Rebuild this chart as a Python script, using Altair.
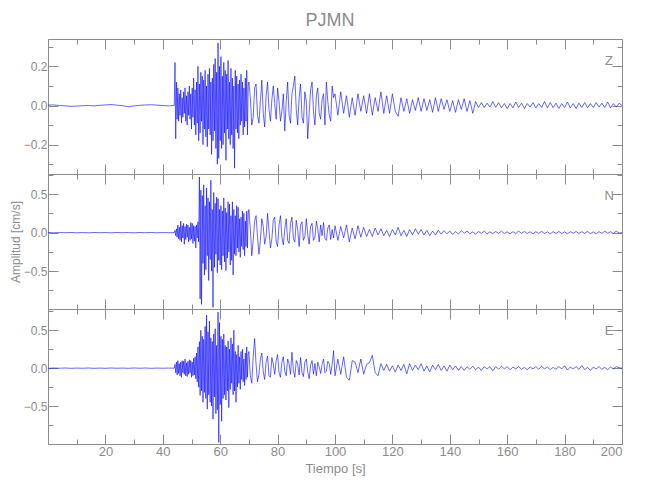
import altair as alt
import pandas as pd

# ---------------- data ----------------
PRE_T = list(range(0, 44, 2))          # pre-event samples, 0..42 s
A_T0, A_DT = 44.0, 0.25                # strong-motion part
B_T0, B_DT = 70.0, 0.5                 # coda
C_T0, C_DT = 100.0, 1.0                # late coda

Z_PRE = [0.002, 0.003, 0.0, -0.002, -0.004, -0.003, -0.001, 0.0, -0.002, 0.001, 0.003,
         0.005, 0.002, -0.001, -0.006, -0.002, 0.001, 0.003, 0.004, 0.002, 0.0, -0.002]
Z_A = [0.00, 0.22, -0.17, 0.12, -0.07, 0.09, -0.08, 0.06, -0.05, 0.08, -0.09, 0.04,
       -0.06, 0.07, -0.04, 0.09, -0.08, 0.05, -0.10, 0.07, -0.05, 0.10, -0.07, 0.06,
       -0.12, 0.09, -0.06, 0.14, -0.10, 0.08, -0.15, 0.12, -0.09, 0.20, -0.18, 0.11,
       -0.14, 0.17, -0.08, 0.15, -0.20, 0.13, -0.12, 0.18, -0.16, 0.10, -0.21, 0.16,
       -0.12, 0.19, -0.15, 0.12, -0.25, 0.14, -0.18, 0.21, -0.13, 0.24, -0.22, 0.17,
       -0.30, 0.32, -0.27, 0.20, -0.18, 0.25, -0.22, 0.15, -0.20, 0.22, -0.14, 0.18,
       -0.28, 0.16, -0.12, 0.23, -0.17, 0.12, -0.20, 0.19, -0.15, 0.14, -0.22, 0.10,
       -0.32, 0.18, -0.12, 0.15, -0.14, 0.11, -0.17, 0.13, -0.10, 0.16, -0.08, 0.12,
       -0.15, 0.09, -0.11, 0.14, -0.08, 0.18, -0.15, 0.10]
Z_B = [0.12, 0.04, -0.10, -0.06, 0.09, 0.11, -0.05, -0.09, 0.02, 0.13, -0.04, -0.11,
       0.05, 0.12, -0.02, -0.08, 0.03, 0.10, 0.01, -0.07, 0.09, 0.02, -0.08, -0.03,
       0.06, -0.13, 0.02, 0.12, -0.05, -0.09, 0.06, 0.10, 0.15, -0.02, -0.10, 0.04,
       0.11, -0.06, -0.09, 0.07, 0.02, -0.17, -0.04, 0.08, 0.12, -0.03, -0.10, 0.05,
       0.09, -0.04, -0.07, 0.03, 0.06, -0.10, 0.12, 0.02, -0.05, -0.08, 0.10, 0.04]
Z_C = [0.06, -0.05, 0.07, -0.04, 0.05, -0.06, 0.04, -0.05, 0.06, -0.03,
       0.05, -0.04, 0.06, -0.05, 0.04, -0.03, 0.07, -0.04, 0.05, -0.04,
       0.06, -0.03, -0.055, 0.04, -0.03, 0.035, -0.04, 0.03, -0.025, 0.04,
       -0.03, 0.035, -0.025, 0.03, -0.035, 0.04, -0.03, 0.035, -0.02, 0.03,
       -0.03, 0.025, -0.035, 0.03, -0.02, 0.035, -0.03, 0.025, -0.04, 0.02,
       -0.01, 0.015, -0.01, 0.012, -0.008, 0.02, -0.01, 0.015, -0.012, 0.01,
       -0.015, 0.01, -0.012, 0.018, -0.01, 0.012, -0.015, 0.01, -0.008, 0.015,
       -0.012, 0.01, -0.01, 0.02, -0.012, 0.015, -0.01, 0.012, -0.015, 0.01,
       -0.01, 0.018, -0.012, 0.01, -0.015, 0.012, -0.01, 0.015, -0.012, 0.01,
       -0.01, 0.015, -0.008, 0.012, -0.01, 0.018, -0.012, 0.01, -0.008, 0.012, 0.0]

N_PRE = [0.002, -0.002, 0.001, -0.001, 0.002, -0.002, 0.001, -0.002, 0.002, -0.001, 0.001,
         -0.002, 0.002, -0.001, 0.001, -0.002, 0.002, -0.001, 0.002, -0.002, 0.001, -0.001]
N_A = [0.00, 0.03, -0.04, 0.05, -0.06, 0.10, -0.08, 0.07, -0.10, 0.15, -0.12, 0.09,
       -0.07, 0.12, -0.15, 0.08, -0.09, 0.11, -0.06, 0.10, -0.12, 0.07, -0.10, 0.13,
       -0.08, 0.12, -0.14, 0.09, -0.11, 0.08, -0.20, 0.10, -0.07, 0.14, -0.12, 0.72,
       -0.86, 0.55, -0.93, 0.48, -0.40, 0.62, -0.55, 0.35, -0.48, 0.58, -0.30, 0.45,
       -0.62, 0.40, -0.35, 0.68, -0.50, 0.30, -0.97, 0.52, -0.45, 0.38, -0.28, 0.46,
       -0.52, 0.44, -0.36, 0.30, -0.42, 0.35, -0.48, 0.28, -0.30, 0.45, -0.38, 0.32,
       -0.49, 0.26, -0.33, 0.40, -0.25, 0.37, -0.42, 0.22, -0.36, 0.40, -0.55, 0.30,
       -0.28, 0.22, -0.30, 0.35, -0.20, 0.33, -0.25, 0.18, -0.32, 0.20, -0.18, 0.28,
       -0.22, 0.25, -0.30, 0.15, -0.18, 0.28, -0.20, 0.24]
N_B = [0.30, 0.05, -0.30, -0.10, 0.15, 0.22, -0.05, -0.28, -0.10, 0.18, 0.08, -0.15,
       -0.05, 0.25, 0.02, -0.20, -0.08, 0.16, 0.20, -0.12, -0.18, 0.10, 0.22, -0.06,
       -0.16, 0.05, 0.18, -0.10, -0.14, 0.12, 0.20, -0.08, -0.12, 0.16, 0.04, -0.18,
       0.10, 0.14, -0.10, -0.05, 0.18, -0.02, -0.15, 0.08, 0.12, -0.10, -0.06, 0.15,
       0.05, -0.12, 0.10, -0.04, 0.13, -0.08, -0.10, 0.06, 0.10, -0.09, 0.04, -0.07]
N_C = [0.09, -0.10, 0.08, -0.07, 0.10, -0.12, 0.06, -0.08, 0.09, -0.06,
       0.07, -0.05, 0.04, -0.05, 0.06, -0.03, 0.05, -0.04, 0.03, -0.05,
       0.04, -0.03, 0.07, -0.04, 0.03, -0.05, 0.04, -0.03, 0.05, -0.02,
       0.04, -0.03, 0.03, -0.04, 0.02, -0.03, 0.03, -0.02, 0.025, -0.015,
       0.02, -0.025, 0.015, -0.02, 0.025, -0.01, 0.02, -0.015, 0.01, -0.02,
       0.015, -0.01, 0.02, -0.015, 0.01, -0.012, 0.015, -0.01, 0.02, -0.012,
       0.01, -0.015, 0.012, -0.01, 0.02, -0.01, 0.015, -0.012, 0.01, -0.015,
       0.012, -0.01, 0.018, -0.012, 0.01, -0.015, 0.012, -0.01, 0.015, -0.012,
       0.01, -0.015, 0.012, -0.008, 0.015, -0.01, 0.012, -0.01, 0.015, -0.012,
       0.01, -0.015, 0.012, -0.01, 0.02, -0.008, 0.012, -0.01, 0.02, -0.005, 0.0]

E_PRE = [-0.002, 0.002, -0.001, 0.002, -0.002, 0.001, -0.001, 0.002, -0.002, 0.001, -0.002,
         0.002, -0.001, 0.001, -0.002, 0.002, -0.001, 0.002, -0.002, 0.001, -0.001, 0.001]
E_A = [0.00, 0.05, -0.06, 0.08, -0.09, 0.10, -0.07, 0.06, -0.10, 0.08, -0.12, 0.10,
       -0.06, 0.09, -0.08, 0.12, -0.10, 0.07, -0.11, 0.09, -0.08, 0.11, -0.06, 0.10,
       -0.12, 0.08, -0.10, 0.13, -0.09, 0.15, -0.14, 0.20, -0.18, 0.28, -0.25, 0.35,
       -0.36, 0.50, -0.30, 0.42, -0.45, 0.38, -0.32, 0.55, -0.40, 0.70, -0.54, 0.48,
       -0.35, 0.62, -0.45, 0.40, -0.50, 0.35, -0.67, 0.45, -0.38, 0.52, -0.60, 0.30,
       -0.55, 0.74, -0.98, 0.60, -0.48, 0.42, -0.70, 0.38, -0.40, 0.45, -0.35, 0.30,
       -0.42, 0.28, -0.30, 0.36, -0.52, 0.25, -0.28, 0.40, -0.20, 0.32, -0.35, 0.50,
       -0.30, 0.22, -0.45, 0.18, -0.25, 0.30, -0.20, 0.15, -0.28, 0.22, -0.15, 0.25,
       -0.18, 0.12, -0.23, 0.20, -0.15, 0.28, -0.12, 0.18]
E_B = [0.22, -0.10, -0.20, 0.15, 0.39, 0.05, -0.18, -0.08, 0.12, 0.20, -0.05, -0.15,
       0.08, 0.16, -0.10, -0.12, 0.14, 0.05, -0.08, 0.10, 0.18, -0.06, -0.12, 0.08,
       0.15, -0.04, -0.10, 0.12, 0.06, -0.08, 0.21, -0.03, -0.12, 0.10, 0.05, -0.09,
       0.14, -0.06, -0.11, 0.08, 0.12, -0.05, -0.14, 0.04, 0.10, -0.08, 0.06, -0.10,
       0.08, 0.02, -0.07, 0.05, 0.12, -0.06, -0.04, 0.09, 0.06, -0.08, 0.05, 0.23]
E_C = [-0.10, 0.12, -0.08, 0.15, -0.12, -0.16, 0.10, 0.08, -0.06, 0.12,
       -0.08, 0.05, 0.07, 0.17, -0.06, -0.10, 0.06, -0.03, 0.05, -0.04,
       0.03, -0.05, 0.04, -0.03, 0.05, -0.075, 0.06, -0.03, 0.04, -0.02,
       0.06, -0.04, 0.03, -0.05, 0.04, -0.02, 0.05, -0.03, 0.03, -0.04,
       0.04, -0.02, 0.03, -0.03, 0.02, -0.03, 0.02, -0.015, 0.025, -0.02,
       0.015, -0.03, 0.02, -0.01, 0.02, -0.035, 0.02, -0.015, 0.025, -0.01,
       0.02, -0.02, 0.015, -0.01, 0.02, -0.015, 0.01, -0.02, 0.015, -0.01,
       0.02, -0.015, 0.025, -0.01, 0.015, -0.02, 0.01, -0.015, 0.02, -0.01,
       0.03, -0.025, 0.015, -0.01, 0.02, -0.015, 0.035, -0.02, 0.01, -0.03,
       0.015, -0.01, 0.02, -0.015, 0.01, -0.02, 0.015, -0.01, 0.02, 0.005, 0.0]

COMPONENTS = ["Z", "N", "E"]
X_TICKS = list(range(0, 201, 10))
X_LABELS = list(range(20, 201, 20))
Z_TICKS = [-0.3, -0.2, -0.1, 0.0, 0.1, 0.2, 0.3]
Z_LABELS = [-0.2, 0.0, 0.2]
NE_TICKS = [-0.75, -0.5, -0.25, 0.0, 0.25, 0.5, 0.75]
NE_LABELS = [-0.5, 0.0, 0.5]

# ---------------- styling ----------------
W, H = 574, 135
GRAY = "#8c8c8c"
FONT = "Liberation Sans"
BLUE = "#0000ff"


def trace(pre, a, b, c):
    t = (PRE_T + [A_T0 + A_DT * i for i in range(len(a))]
         + [B_T0 + B_DT * i for i in range(len(b))]
         + [C_T0 + C_DT * i for i in range(len(c))])
    return pd.DataFrame({"t": t, "v": pre + a + b + c})


def panel(df, name, ydom, yticks, ylabels, major_test, label_v, ytitle=None, bottom=False):
    xs = alt.Scale(domain=[0, 200], nice=False, zero=False)
    ys = alt.Scale(domain=ydom, nice=False, zero=False)
    if bottom:
        xaxis = alt.Axis(values=X_LABELS, format="d", ticks=False, domain=False, grid=False,
                         labelColor=GRAY, labelFont=FONT, labelFontSize=13, labelPadding=1,
                         title="Tiempo [s]", titleColor=GRAY, titleFont=FONT,
                         titleFontSize=13, titleFontWeight="normal", titlePadding=4)
    else:
        xaxis = None
    yaxis = alt.Axis(values=ylabels, format=".1f", ticks=False, domain=False, grid=False,
                     labelColor=GRAY, labelFont=FONT, labelFontSize=12, labelPadding=1,
                     title=ytitle, titleColor=GRAY, titleFont=FONT, titleFontSize=12,
                     titleFontWeight="normal", titlePadding=1)
    line = alt.Chart(df).mark_line(color=BLUE, strokeWidth=0.6, clip=True).encode(
        x=alt.X("t:Q", scale=xs, axis=xaxis),
        y=alt.Y("v:Q", scale=ys, axis=yaxis),
    )
    lab_df = pd.DataFrame({"t": [195.5], "v": [label_v], "name": [name]})
    label = alt.Chart(lab_df).mark_text(color=GRAY, font=FONT, fontSize=13).encode(
        x=alt.X("t:Q", scale=xs, axis=None),
        y=alt.Y("v:Q", scale=ys, axis=None),
        text="name:N",
    )
    xsize = {"condition": {"test": "datum.value % 20 == 0", "value": 10}, "value": 5}
    ysize = {"condition": {"test": major_test, "value": 10}, "value": 5}
    common = dict(labels=False, domain=False, grid=False, tickColor=GRAY, tickWidth=1, title=None)
    t1 = alt.Chart(lab_df).mark_point(opacity=0).encode(
        x=alt.X("t:Q", scale=xs, axis=alt.Axis(orient="top", offset=-H, values=X_TICKS,
                                               tickSize=xsize, **common)),
        y=alt.Y("v:Q", scale=ys, axis=alt.Axis(orient="right", offset=-W, values=yticks,
                                               tickSize=ysize, **common)),
    )
    t2 = alt.Chart(lab_df).mark_point(opacity=0).encode(
        x=alt.X("t:Q", scale=xs, axis=alt.Axis(orient="bottom", offset=-H, values=X_TICKS,
                                               tickSize=xsize, **common)),
        y=alt.Y("v:Q", scale=ys, axis=alt.Axis(orient="left", offset=-W, values=yticks,
                                               tickSize=ysize, **common)),
    )
    return alt.layer(line, label, t1, t2).resolve_axis(
        x="independent", y="independent").properties(width=W, height=H)


pz = panel(trace(Z_PRE, Z_A, Z_B, Z_C), COMPONENTS[0], [-0.35, 0.34], Z_TICKS, Z_LABELS,
           "round(datum.value*10) % 2 == 0", 0.23)
pn = panel(trace(N_PRE, N_A, N_B, N_C), COMPONENTS[1], [-0.99, 0.76], NE_TICKS, NE_LABELS,
           "round(datum.value*4) % 2 == 0", 0.48, ytitle="Amplitud [cm/s]")
pe = panel(trace(E_PRE, E_A, E_B, E_C), COMPONENTS[2], [-1.0, 0.78], NE_TICKS, NE_LABELS,
           "round(datum.value*4) % 2 == 0", 0.49, bottom=True)

chart = alt.vconcat(pz, pn, pe, spacing=0, bounds="flush").properties(
    title=alt.TitleParams("PJMN", font=FONT, fontSize=18, fontWeight="normal", color=GRAY,
                          anchor="middle", offset=8, dx=14),
    padding={"left": 0, "top": 4, "right": 5, "bottom": 5},
).configure_view(stroke=GRAY, strokeWidth=1)

chart.save("out.html", embed_options={"renderer": "svg", "actions": False})
